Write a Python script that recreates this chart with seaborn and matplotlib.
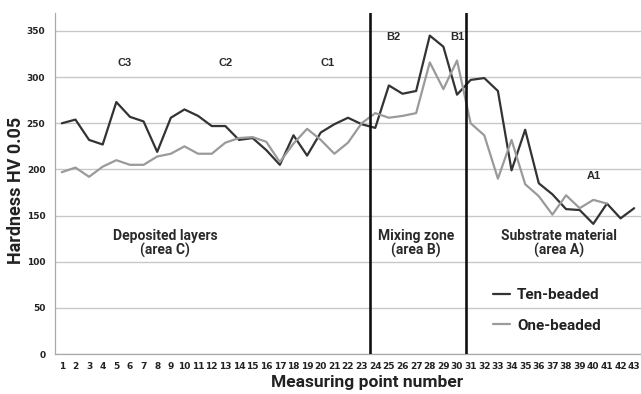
import numpy as np
import pandas as pd
import matplotlib
matplotlib.use("Agg")
import matplotlib.pyplot as plt
import seaborn as sns

# measuring points 1..43
points = list(range(1, 44))
ten_beaded = [250, 254, 232, 227, 273, 257, 252, 219, 256, 265, 258, 247,
              247, 232, 234, 221, 205, 237, 215, 240, 249, 256, 249, 245,
              291, 282, 285, 345, 333, 281, 297, 299, 285,
              199, 243, 185, 173, 157, 156, 141, 163, 147, 158]
one_beaded = [197, 202, 192, 203, 210, 205, 205, 214, 217, 225, 217, 217,
              229, 234, 235, 230, 208, 228, 244, 232, 217, 229, 250, 261,
              256, 258, 261, 316, 287, 318, 250, 237, 190,
              232, 184, 171, 151, 172, 158, 167, 163, np.nan, np.nan]
series_names = ["Ten-beaded", "One-beaded"]
series_colors = ["#333333", "#9a9a9a"]

zone_borders = [23.6, 30.65]
zone_labels = ["Deposited layers\n(area C)", "Mixing zone\n(area B)", "Substrate material\n(area A)"]
zone_label_x = [8.6, 27.0, 37.5]
point_labels = ["C3", "C2", "C1", "B2", "B1", "A1"]
point_label_x = [5.6, 13.0, 20.5, 25.3, 30.0, 40.0]
point_label_y = [315, 315, 315, 343, 343, 193]

df = pd.DataFrame({
    "Point": points * 2,
    "Hardness": ten_beaded + one_beaded,
    "Series": [series_names[0]] * 43 + [series_names[1]] * 43,
})

sns.set_theme(style="white")
plt.rcParams['font.family'] = ['Roboto', 'DejaVu Sans']

fig = plt.figure(figsize=(6.41, 3.94), dpi=100)
ax = fig.add_axes([55 / 641, 1 - 354 / 394, 586 / 641, 341 / 394])

sns.lineplot(data=df, x="Point", y="Hardness", hue="Series",
             palette=series_colors, linewidth=1.6, ax=ax, legend=True)

for xb in zone_borders:
    ax.axvline(xb, color="#111111", linewidth=1.9, zorder=5)

ax.set_xlim(0.5, 43.5)
ax.set_ylim(0, 369.5)
ax.set_yticks(range(0, 351, 50))
ax.yaxis.grid(True, color="#c8c8c8", linewidth=1.0)
ax.set_axisbelow(True)

tick_font = dict(family=['Liberation Sans Narrow', 'DejaVu Sans'], weight='bold', size=6.5)
ax.set_xticks(points)
ax.set_xticklabels([str(p) for p in points], fontdict=tick_font, color="#222222")
ax.set_xticks(np.arange(0.5, 44, 1), minor=True)
ax.tick_params(axis='x', which='major', length=0, pad=6)
ax.tick_params(axis='x', which='minor', length=4, width=0.8, color="#aaaaaa", direction='out')
ax.set_yticklabels([str(v) for v in range(0, 351, 50)], fontdict=tick_font, color="#222222")
ax.tick_params(axis='y', length=3, width=0.8, color="#aaaaaa", pad=4)

for s in ["top", "right"]:
    ax.spines[s].set_visible(False)
for s in ["left", "bottom"]:
    ax.spines[s].set_color("#aaaaaa")
    ax.spines[s].set_linewidth(0.9)

ax.set_xlabel("Measuring point number", fontsize=12.5, fontweight='bold', color="#222222")
ax.xaxis.set_label_coords(0.532, -0.063)
ax.set_ylabel("Hardness HV 0.05", fontsize=13, fontweight='bold', color="#222222")
ax.yaxis.set_label_coords(-0.052, 0.48)

for lbl, xl in zip(zone_labels, zone_label_x):
    ax.text(xl, 120, lbl, ha='center', va='center', fontsize=10, fontweight='bold',
            color="#2a2a2a", linespacing=1.0)

for lbl, xl, yl in zip(point_labels, point_label_x, point_label_y):
    ax.text(xl, yl, lbl, ha='center', va='center', fontsize=8, fontweight='bold',
            family=['Liberation Sans', 'DejaVu Sans'], color="#2a2a2a")

leg = ax.legend(loc='center left', bbox_to_anchor=(0.747, 0.128), frameon=False,
                fontsize=11, handlelength=1.15, handletextpad=0.45, labelspacing=1.1,
                borderpad=0, borderaxespad=0)
for t in leg.get_texts():
    t.set_fontweight('bold')
    t.set_color("#222222")

fig.savefig("out.png", dpi=100)
